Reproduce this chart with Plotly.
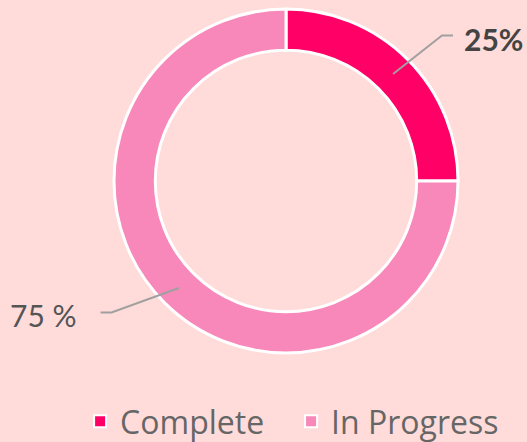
import math
import plotly.graph_objects as go

labels = ["Complete", "In Progress"]
values = [25, 75]
colors = ["#FF0066", "#F887BA"]
label_texts = ["25%", "75 %"]

W, H = 527, 442
dom_x = [113 / W, 459 / W]
dom_y = [1 - 353 / H, 1 - 9 / H]
hole = 0.76

fig = go.Figure(go.Pie(
    labels=labels, values=values, hole=hole, sort=False, direction="clockwise",
    rotation=0, marker=dict(colors=colors, line=dict(color="white", width=3)),
    textinfo="none", hoverinfo="label+percent",
    domain=dict(x=dom_x, y=dom_y),
))

# geometry in pixels (derived from domain)
cx = (dom_x[0] + dom_x[1]) / 2 * W
cy = (1 - (dom_y[0] + dom_y[1]) / 2) * H
R = min((dom_x[1] - dom_x[0]) * W, (dom_y[1] - dom_y[0]) * H) / 2
r_mid = R * (1 + hole) / 2

shapes = []
annotations = []
total = sum(values)
cum = 0
elbow_r = [1.24, 1.27]
elbow_ang_off = [2, 8]
text_gap = [9, 22]
fonts = [dict(size=30, color="#444444", family="Lato"),
         dict(size=30, color="#555555", family="Lato")]
for i, v in enumerate(values):
    mid = (cum + v / 2) / total * 360
    cum += v
    side = 1 if mid < 180 else -1
    a0 = math.radians(mid)
    x0 = cx + r_mid * math.sin(a0)
    y0 = cy - r_mid * math.cos(a0)
    a1 = math.radians(mid + side * elbow_ang_off[i] * (1 if i == 0 else -1))
    x1 = cx + R * elbow_r[i] * math.sin(a1)
    y1 = cy - R * elbow_r[i] * math.cos(a1)
    x2 = x1 + side * 11
    pts = [(x0, y0), (x1, y1), (x2, y1)]
    path = "M " + " L ".join(f"{px / W},{1 - py / H}" for px, py in pts)
    shapes.append(dict(type="path", xref="paper", yref="paper", path=path,
                       line=dict(color="#A0A0A0", width=2)))
    annotations.append(dict(
        x=(x2 + side * text_gap[i]) / W, y=1 - (y1 + 3) / H, xref="paper", yref="paper",
        text=("<b>%s</b>" % label_texts[i]) if i == 0 else label_texts[i],
        showarrow=False, xanchor="left" if side > 0 else "right", yanchor="middle",
        font=fonts[i]))

fig.update_layout(
    width=W, height=H, margin=dict(l=0, r=0, t=0, b=0, autoexpand=False),
    paper_bgcolor="#FFDCDA", plot_bgcolor="#FFDCDA",
    shapes=shapes, annotations=annotations,
    showlegend=True,
    legend=dict(orientation="h", x=0.152, xanchor="left", y=-0.016, yanchor="bottom",
                font=dict(size=32, color="#666666", family="Open Sans"),
                itemsizing="constant", tracegroupgap=0,
                entrywidth=166, entrywidthmode="pixels",
                bgcolor="rgba(0,0,0,0)"),
)

fig.write_html("out.html", config={"displayModeBar": False},
               post_script="document.body.style.margin='0px';")
